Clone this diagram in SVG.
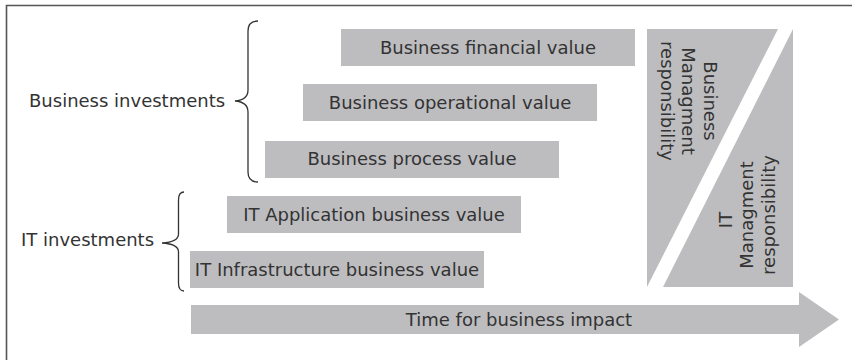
<svg xmlns="http://www.w3.org/2000/svg" width="852" height="360" viewBox="0 0 852 360">
<style>
.box{fill:#bdbdc0}
.t{font-family:"DejaVu Sans","Liberation Sans",sans-serif;font-size:18px;fill:#333}
.m{text-anchor:middle}
.brace{fill:none;stroke:#333;stroke-width:1.3}
.frame{stroke:#555;stroke-width:1.6;fill:none}
</style>
<rect width="852" height="360" fill="#fff"/>
<path class="frame" d="M6.5,360 L6.5,5.5 L852,5.5"/>
<g id="label-business-investments">
<text class="t" x="29" y="107">Business investments</text>
<path class="brace" d="M258,21 Q248,21 248,31 L248,90 Q248,100 235,101 Q248,102 248,112 L248,172 Q248,182 258,182"/>
</g>
<g id="label-it-investments">
<text class="t" x="21" y="246">IT investments</text>
<path class="brace" d="M184,192 Q178.5,192 178.5,200 L178.5,234 Q178.5,242 162,243 Q178.5,244 178.5,252 L178.5,283 Q178.5,291 184,291"/>
</g>
<g id="node-financial">
<rect class="box" x="341" y="29" width="294" height="37"/>
<text class="t m" x="488" y="53.5">Business financial value</text>
</g>
<g id="node-operational">
<rect class="box" x="303" y="84" width="294" height="37"/>
<text class="t m" x="450" y="109">Business operational value</text>
</g>
<g id="node-process">
<rect class="box" x="265" y="141" width="294" height="37"/>
<text class="t m" x="412" y="165">Business process value</text>
</g>
<g id="node-it-application">
<rect class="box" x="227" y="196" width="294" height="37"/>
<text class="t m" x="374" y="221">IT Application business value</text>
</g>
<g id="node-it-infrastructure">
<rect class="box" x="190" y="251" width="294" height="37"/>
<text class="t m" x="337" y="276">IT Infrastructure business value</text>
</g>
<g id="node-business-mgmt">
<polygon class="box" points="647,29 778,29 647,287"/>
<text class="t m" transform="translate(703.5,101) rotate(90)">Business</text>
<text class="t m" transform="translate(682,101) rotate(90)">Managment</text>
<text class="t m" transform="translate(660.5,101) rotate(90)">responsibility</text>
</g>
<g id="node-it-mgmt">
<polygon class="box" points="793,29 793,287 663,287"/>
<text class="t m" transform="translate(731.5,220) rotate(-90)">IT</text>
<text class="t m" transform="translate(753,215) rotate(-90)">Managment</text>
<text class="t m" transform="translate(775,215) rotate(-90)">responsibility</text>
</g>
<g id="connectors">
<g id="arrow-time">
<polygon class="box" points="191,305 799,305 799,292 839,319.5 799,347 799,334 191,334"/>
<text class="t m" x="519" y="326">Time for business impact</text>
</g>
</g>
</svg>
